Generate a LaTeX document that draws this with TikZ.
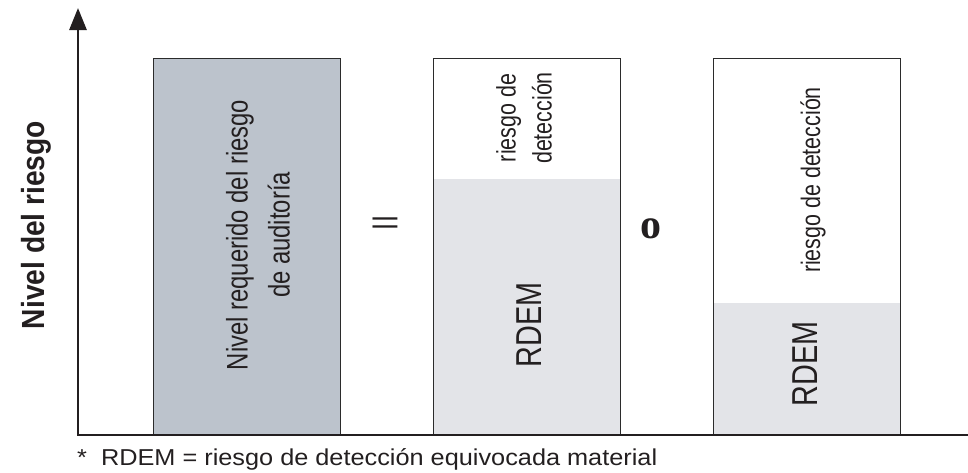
\documentclass[tikz,border=0pt]{standalone}
\usepackage{fontspec}
\setmainfont{Liberation Sans}
\newfontfamily\cond[FakeStretch=0.8]{Liberation Sans}
\newfontfamily\condb[FakeStretch=0.88]{Liberation Sans}
\newfontfamily\plain{Liberation Sans}
\newfontfamily\wide[FakeStretch=1.1]{Liberation Sans}
\newfontfamily\serifb{Liberation Serif}
\usetikzlibrary{arrows.meta}
\definecolor{ink}{HTML}{231F20}
\definecolor{darkfill}{HTML}{BCC3CC}
\definecolor{lightfill}{HTML}{E3E4E8}
\definecolor{boxcol}{HTML}{2B2B2B}
\tikzset{
  axisline/.style={line width=2.8pt, draw=ink},
  barbox/.style={draw=boxcol, line width=1.4pt, anchor=north west, inner sep=0pt,
    minimum width=187pt, minimum height=377pt},
  fillpart/.style={anchor=north west, inner sep=0pt, minimum width=187pt, draw=none},
  vtext/.style={rotate=90, text=ink, align=center, inner sep=0pt},
}
\begin{document}
\begin{tikzpicture}[x=1pt, y=-1pt]
\useasboundingbox (0,0) rectangle (968,472);
% fills
\node[fillpart, fill=darkfill, minimum height=377pt] (f1) at (153,58) {};
\node[fillpart, fill=lightfill, minimum height=256pt] (f2) at (433,179) {};
\node[fillpart, fill=lightfill, minimum height=132pt] (f3) at (713,303) {};
% boxes
\node[barbox] (b1) at (153,58) {};
\node[barbox] (b2) at (433,58) {};
\node[barbox] (b3) at (713,58) {};
% axes
\coordinate (O) at (78,435);
\coordinate (ytop) at (78,8);
\coordinate (xend) at (968,435);
\draw[axisline, -{Triangle[length=22pt,width=17pt]}] (xend) -- (O) -- (ytop);
% axis label
\node[vtext, font={\condb\bfseries\fontsize{32}{36}\selectfont}] (ylab) at (36,225) {Nivel del riesgo};
% box 1 text
\node[vtext, font={\cond\fontsize{29.8}{42}\selectfont}] (t1) at (258,235)
  {Nivel requerido del riesgo\\de auditoría};
% equals
\node[text=ink, inner sep=0pt, font={\plain\fontsize{32}{32}\selectfont}] (eq) at (385,226) {\scalebox{1.6}[1]{=}};
% box 2 text
\node[vtext, font={\cond\fontsize{26.8}{36}\selectfont}] (t2) at (524,118)
  {riesgo de\\detección};
\node[vtext, font={\cond\fontsize{36}{40}\selectfont}] (r2) at (529,325) {RDEM};
% o
\node[text=ink, inner sep=0pt, font={\serifb\bfseries\fontsize{42}{42}\selectfont}] (or) at (651,229) {o};
% box 3 text
\node[vtext, font={\cond\fontsize{26.8}{32}\selectfont}] (t3) at (813,180) {riesgo de detección};
\node[vtext, font={\cond\fontsize{36}{40}\selectfont}] (r3) at (805,364) {RDEM};
% footnote
\node[anchor=base west, text=ink, inner sep=0pt, font={\wide\fontsize{23}{26}\selectfont}] (foot) at (77,465)
  {*\hspace{14pt}RDEM = riesgo de detección equivocada material};
\end{tikzpicture}
\end{document}
